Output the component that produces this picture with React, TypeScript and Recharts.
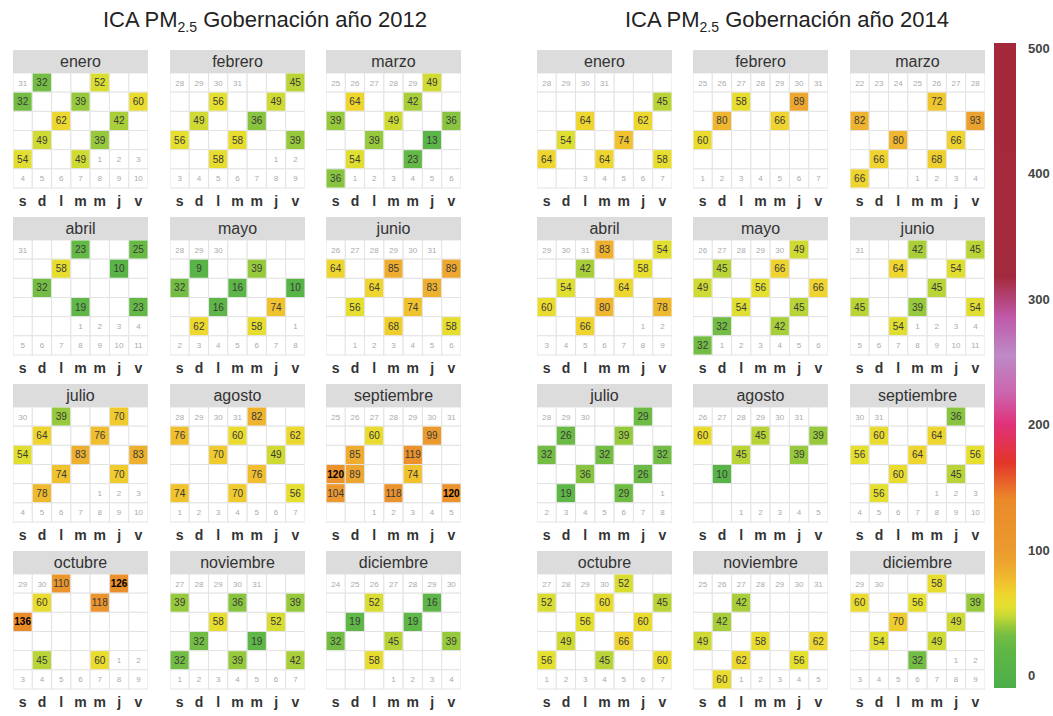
import React from "react";
import { ScatterChart, Scatter, XAxis, YAxis, BarChart, Bar } from "recharts";

const MONTHS = [
  "enero", "febrero", "marzo", "abril", "mayo", "junio",
  "julio", "agosto", "septiembre", "octubre", "noviembre", "diciembre",
];
const WEEKDAYS = ["s", "d", "l", "m", "m", "j", "v"];

// [día, ICA] por mes
const ene2012 = [[1, 32], [4, 52], [7, 32], [10, 39], [13, 60], [16, 62], [19, 42], [22, 49], [25, 39], [28, 54], [31, 49]];
const feb2012 = [[3, 45], [6, 56], [9, 49], [12, 49], [15, 36], [18, 56], [21, 58], [24, 39], [27, 58]];
const mar2012 = [[1, 49], [4, 64], [7, 42], [10, 39], [13, 49], [16, 36], [19, 39], [22, 13], [25, 54], [28, 23], [31, 36]];
const abr2012 = [[3, 23], [6, 25], [9, 58], [12, 10], [15, 32], [24, 19], [27, 23]];
const may2012 = [[6, 9], [9, 39], [12, 32], [15, 16], [18, 10], [21, 16], [24, 74], [27, 62], [30, 58]];
const jun2012 = [[2, 64], [5, 85], [8, 89], [11, 64], [14, 83], [17, 56], [20, 74], [26, 68], [29, 58]];
const jul2012 = [[2, 39], [5, 70], [8, 64], [11, 76], [14, 54], [17, 83], [20, 83], [23, 74], [26, 70], [29, 78]];
const ago2012 = [[1, 82], [4, 76], [7, 60], [10, 62], [13, 70], [16, 49], [22, 76], [25, 74], [28, 70], [31, 56]];
const sep2012 = [[3, 60], [6, 99], [9, 85], [12, 119], [15, 120], [16, 89], [19, 74], [22, 104], [25, 118], [28, 120]];
const oct2012 = [[1, 110], [4, 126], [7, 60], [10, 118], [13, 136], [28, 45], [31, 60]];
const nov2012 = [[3, 39], [6, 36], [9, 39], [12, 58], [15, 52], [18, 32], [21, 19], [24, 32], [27, 39], [30, 42]];
const dic2012 = [[3, 52], [6, 16], [9, 19], [12, 19], [15, 32], [18, 45], [21, 39], [24, 58]];

const ene2014 = [[10, 45], [13, 64], [16, 62], [19, 54], [22, 74], [25, 64], [28, 64], [31, 58]];
const feb2014 = [[3, 58], [6, 89], [9, 80], [12, 66], [15, 60]];
const mar2014 = [[5, 72], [8, 82], [14, 93], [17, 80], [20, 66], [23, 66], [26, 68], [29, 66]];
const abr2014 = [[1, 83], [4, 54], [7, 42], [10, 58], [13, 54], [16, 64], [19, 60], [22, 80], [25, 78], [28, 66]];
const may2014 = [[1, 49], [4, 45], [7, 66], [10, 49], [13, 56], [16, 66], [19, 54], [22, 45], [25, 32], [28, 42], [31, 32]];
const jun2014 = [[3, 42], [6, 45], [9, 64], [12, 54], [18, 45], [21, 45], [24, 39], [27, 54], [30, 54]];
const jul2014 = [[3, 29], [6, 26], [9, 39], [12, 32], [15, 32], [18, 32], [21, 36], [24, 26], [27, 19], [30, 29]];
const ago2014 = [[2, 60], [5, 45], [8, 39], [11, 45], [14, 39], [17, 10]];
const sep2014 = [[4, 36], [7, 60], [10, 64], [13, 56], [16, 64], [19, 56], [22, 60], [25, 45], [28, 56]];
const oct2014 = [[1, 52], [4, 52], [7, 60], [10, 45], [13, 56], [16, 60], [19, 49], [22, 66], [25, 56], [28, 45], [31, 60]];
const nov2014 = [[3, 42], [9, 42], [15, 49], [18, 58], [21, 62], [24, 62], [27, 56], [30, 60]];
const dic2014 = [[3, 58], [6, 60], [9, 56], [12, 39], [15, 70], [18, 49], [21, 54], [24, 49], [30, 32]];

const YEAR_2012 = [ene2012, feb2012, mar2012, abr2012, may2012, jun2012, jul2012, ago2012, sep2012, oct2012, nov2012, dic2012];
const YEAR_2014 = [ene2014, feb2014, mar2014, abr2014, may2014, jun2014, jul2014, ago2014, sep2014, oct2014, nov2014, dic2014];

// días del mes siguiente que el original deja en blanco
const HIDDEN_NEXT: Record<string, number[]> = { "2014-0": [1, 2] };

const COLORBAR_TICKS = [0, 100, 200, 300, 400, 500];
const COLORBAR_RANGE = [-10, 504];
const COLOR_STOPS: [number, string][] = [
  [-10, "#4dae4a"], [20, "#5fb746"], [32, "#74bd44"], [40, "#9ccb3b"], [48, "#cbd934"],
  [55, "#e4e030"], [65, "#efd52e"], [75, "#f0c02e"], [88, "#eda72f"], [100, "#eb9a2e"],
  [140, "#ea8a2a"], [170, "#e3342a"], [200, "#e0327a"], [225, "#cc64ae"], [255, "#bd8ac6"],
  [285, "#c05aaa"], [318, "#a32a3c"], [504, "#a3283a"],
];

const FONT = "'Liberation Sans', Arial, sans-serif";
const MONTH_W = 135;
const HEADER_H = 23;
const GRID_H = 115;
const AXIS_H = 26;
const COL_LEFT_2012 = [13, 170, 326];
const COL_LEFT_2014 = [537, 693, 850];
const ROW_TOP = [50, 217, 384, 551];

const hex = (c: string) => [1, 3, 5].map((i) => parseInt(c.slice(i, i + 2), 16));

function colorFor(v: number) {
  for (let i = 1; i < COLOR_STOPS.length; i++) {
    const [v1, c1] = COLOR_STOPS[i];
    if (v <= v1) {
      const [v0, c0] = COLOR_STOPS[i - 1];
      const t = (v - v0) / (v1 - v0);
      const a = hex(c0);
      const b = hex(c1);
      return `rgb(${a.map((x, k) => Math.round(x + (b[k] - x) * t)).join(",")})`;
    }
  }
  return COLOR_STOPS[COLOR_STOPS.length - 1][1];
}

function buildCells(year: number, month: number, values: number[][]) {
  const wd = (new Date(year, month, 1).getDay() + 1) % 7; // sábado = 0
  const offset = wd === 0 ? 7 : wd;
  const daysIn = new Date(year, month + 1, 0).getDate();
  const prevDays = new Date(year, month, 0).getDate();
  const byDay = new Map(values.map(([d, v]) => [d, v]));
  const hidden = HIDDEN_NEXT[`${year}-${month}`] || [];
  const cells = [];
  for (let i = 0; i < 42; i++) {
    const d = i - offset + 1;
    const cell: any = { x: i % 7, y: Math.floor(i / 7) };
    if (d < 1) cell.other = prevDays + d;
    else if (d > daysIn) {
      if (!hidden.includes(d - daysIn)) cell.other = d - daysIn;
    } else cell.value = byDay.get(d);
    cells.push(cell);
  }
  return cells;
}

const CW = MONTH_W / 7;
const CH = GRID_H / 6;

const renderCell = (p: any) => {
  const { cx, cy, payload } = p;
  const x = cx - CW / 2;
  const y = cy - CH / 2;
  const v = payload.value;
  return (
    <g>
      <rect x={x} y={y} width={CW} height={CH} fill="#fff" stroke="#e3e3e3" strokeWidth={1} />
      {v != null && <rect x={x + 0.5} y={y + 0.5} width={CW - 1} height={CH - 1} fill={colorFor(v)} />}
      {v != null && (
        <text x={cx} y={cy + 3.5} textAnchor="middle" fontSize={10} fontFamily={FONT}
          fill={v >= 120 ? "#000" : "#3a3a3a"} fontWeight={v >= 120 ? "bold" : "normal"}>
          {v}
        </text>
      )}
      {payload.other != null && (
        <text x={cx} y={cy + 3} textAnchor="middle" fontSize={8} fontFamily={FONT} fill="#aaa">
          {payload.other}
        </text>
      )}
    </g>
  );
};

function Month({ year, month, values, left, top }: any) {
  const cells = buildCells(year, month, values);
  return (
    <div style={{ position: "absolute", left, top, width: MONTH_W }}>
      <div style={{ height: HEADER_H, lineHeight: `${HEADER_H}px`, background: "#dcdcdc", textAlign: "center", fontFamily: FONT, fontSize: 16, color: "#333" }}>
        {MONTHS[month]}
      </div>
      <ScatterChart width={MONTH_W} height={GRID_H + AXIS_H} margin={{ top: 0, right: 0, bottom: 0, left: 0 }}>
        <XAxis type="number" dataKey="x" domain={[-0.5, 6.5]} ticks={[0, 1, 2, 3, 4, 5, 6]} interval={0}
          tickFormatter={(i) => WEEKDAYS[i]} axisLine={false} tickLine={false} tickSize={0} tickMargin={8}
          height={AXIS_H} tick={{ fontSize: 14, fill: "#333", fontFamily: FONT, fontWeight: "bold" }} />
        <YAxis type="number" dataKey="y" domain={[-0.5, 5.5]} reversed hide />
        <Scatter data={cells} shape={renderCell} isAnimationActive={false} />
      </ScatterChart>
    </div>
  );
}

function Panel({ year, data, cols, title, titleLeft, titleWidth }: any) {
  return (
    <>
      <div style={{ position: "absolute", left: titleLeft, top: 7, width: titleWidth, textAlign: "center", fontFamily: FONT, fontSize: 22, color: "#222", whiteSpace: "nowrap" }}>
        ICA PM<sub style={{ fontSize: 14 }}>2.5</sub> {title}
      </div>
      {data.map((vals: number[][], m: number) => (
        <Month key={m} year={year} month={m} values={vals} left={cols[m % 3]} top={ROW_TOP[Math.floor(m / 3)]} />
      ))}
    </>
  );
}

function ColorKey() {
  const [bottom, top] = COLORBAR_RANGE;
  const keyData = [{ k: "ICA", range: COLORBAR_RANGE }];
  // stops from the top of the bar (high values) downwards, offsets increasing
  const stops = [...COLOR_STOPS].reverse();
  return (
    <div style={{ position: "absolute", left: 985, top: 30 }}>
      <BarChart width={68} height={670} data={keyData} margin={{ top: 13, right: 0, bottom: 12, left: 9 }}
        barCategoryGap={0} barGap={0}>
        <defs>
          <linearGradient id="icaScale" x1="0" y1="0" x2="0" y2="1">
            {stops.map(([v, c]) => (
              <stop key={v} offset={(top - v) / (top - bottom)} stopColor={c} />
            ))}
          </linearGradient>
        </defs>
        <XAxis dataKey="k" hide />
        <YAxis type="number" orientation="right" domain={[bottom, top]} ticks={COLORBAR_TICKS} interval={0}
          allowDataOverflow axisLine={false} tickLine={false} tickSize={0} tickMargin={12} width={37}
          tick={{ fontSize: 13, fill: "#444", fontFamily: FONT, fontWeight: "bold", textAnchor: "start" }} />
        <Bar dataKey="range" fill="url(#icaScale)" isAnimationActive={false} />
      </BarChart>
    </div>
  );
}

export default function App() {
  return (
    <div style={{ position: "absolute", left: 0, top: 0, width: 1053, height: 716, overflow: "hidden", background: "#fff" }}>
      <Panel year={2012} data={YEAR_2012} cols={COL_LEFT_2012} title="Gobernación año 2012" titleLeft={15} titleWidth={500} />
      <Panel year={2014} data={YEAR_2014} cols={COL_LEFT_2014} title="Gobernación año 2014" titleLeft={537} titleWidth={500} />
      <ColorKey />
    </div>
  );
}
